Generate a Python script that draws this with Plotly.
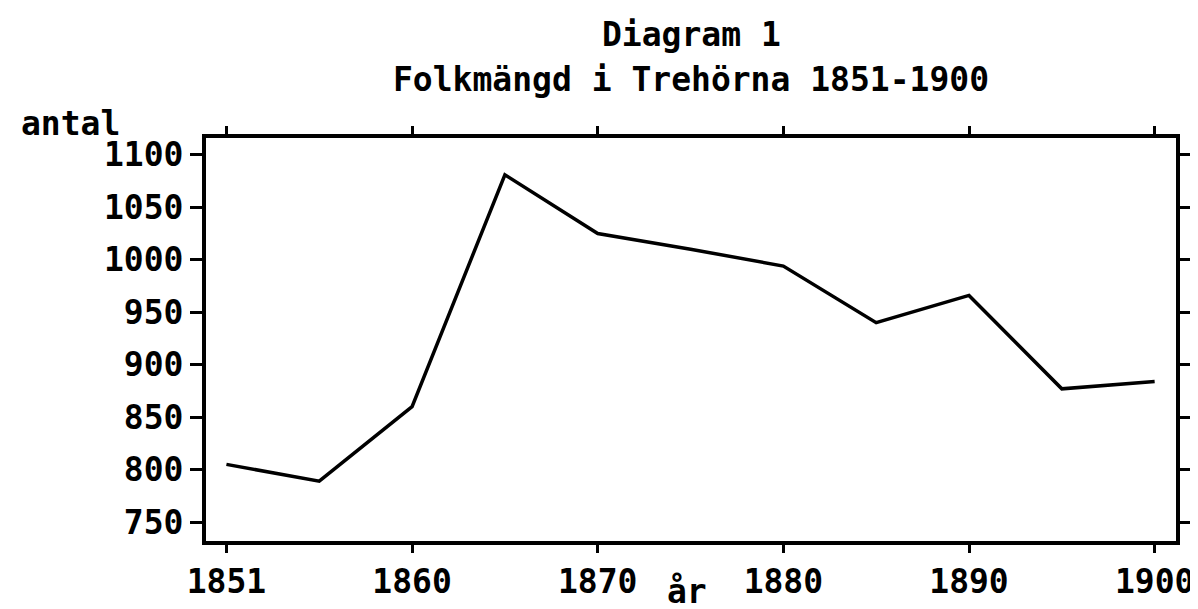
import plotly.graph_objects as go

years = ["1851", "1855", "1860", "1865", "1870", "1875", "1880", "1885", "1890", "1895", "1900"]
population = [805, 789, 860, 1081, 1025, 1010, 994, 940, 966, 877, 884]
x_tick_labels = ["1851", "1860", "1870", "1880", "1890", "1900"]
y_tick_values = [750, 800, 850, 900, 950, 1000, 1050, 1100]

title_line1 = "Diagram 1"
title_line2 = "Folkmängd i Trehörna 1851-1900"
y_label = "antal"
x_label = "år"

FONT = "DejaVu Sans Mono"
FS = 33

fig = go.Figure()
fig.add_trace(go.Scatter(
    x=years, y=population, mode="lines",
    line=dict(color="black", width=3.5),
    showlegend=False,
))

fig.update_layout(
    width=1198, height=609,
    margin=dict(l=198, r=16, t=130, b=76),
    paper_bgcolor="white", plot_bgcolor="white",
    font=dict(family=FONT, size=FS, color="black"),
    xaxis=dict(
        type="category",
        range=[-0.22, 10.23],
        tickmode="array", tickvals=x_tick_labels, ticktext=x_tick_labels,
        ticks="outside", ticklen=8, tickwidth=3, tickcolor="black",
        showline=True, linewidth=4, linecolor="black", mirror="ticks",
        showgrid=False, zeroline=False,
        tickfont=dict(family=FONT, size=FS, color="black", weight="bold"),
    ),
    yaxis=dict(
        range=[732, 1116],
        tickmode="array", tickvals=y_tick_values,
        ticks="outside", ticklen=12, tickwidth=3, tickcolor="black",
        showline=True, linewidth=4, linecolor="black", mirror="ticks",
        showgrid=False, zeroline=False,
        tickfont=dict(family=FONT, size=FS, color="black", weight="bold"),
    ),
)

annotations = [
    dict(text=title_line1, x=0.5, y=(533 - 26) / 403, xref="paper", yref="paper",
         xanchor="center", yanchor="middle", showarrow=False),
    dict(text=title_line2, x=0.5, y=(533 - 71) / 403, xref="paper", yref="paper",
         xanchor="center", yanchor="middle", showarrow=False),
    dict(text=y_label, x=(8 - 198) / 984, y=(533 - 116) / 403, xref="paper", yref="paper",
         xanchor="left", yanchor="middle", showarrow=False),
    dict(text=x_label, x=(686 - 198) / 984, y=(533 - 605) / 403, xref="paper", yref="paper",
         xanchor="center", yanchor="bottom", showarrow=False),
]
for a in annotations:
    a["font"] = dict(family=FONT, size=FS, color="black", weight="bold")
fig.update_layout(annotations=annotations)

fig.write_html("out.html")
